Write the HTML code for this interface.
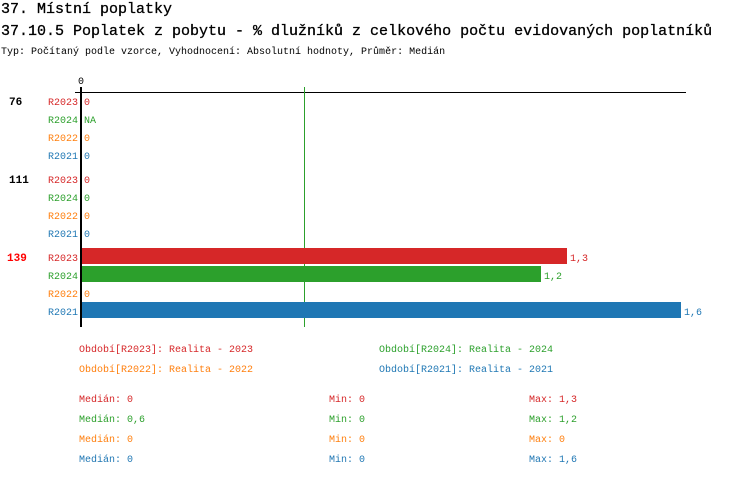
<!DOCTYPE html>
<html><head><meta charset="utf-8"><style>
body{margin:0;background:#fff;}
svg text{font-family:"Liberation Mono","DejaVu Sans Mono",monospace;}
</style></head><body>
<svg width="750" height="476" xmlns="http://www.w3.org/2000/svg">
<text x="1" y="13" font-size="15" fill="#000" stroke="#000" stroke-width="0.3">37. Místní poplatky</text>
<text x="1" y="35" font-size="15" fill="#000" stroke="#000" stroke-width="0.3">37.10.5 Poplatek z pobytu - % dlužníků z celkového počtu evidovaných poplatníků</text>
<text x="1" y="54" font-size="10" fill="#000">Typ: Počítaný podle vzorce, Vyhodnocení: Absolutní hodnoty, Průměr: Medián</text>
<text x="81" y="84" font-size="10" text-anchor="middle">0</text>
<line x1="75" y1="92.5" x2="686" y2="92.5" stroke="#000" stroke-width="1"/>
<line x1="81" y1="87" x2="81" y2="327" stroke="#000" stroke-width="2"/>
<line x1="304.5" y1="87" x2="304.5" y2="327" stroke="#2ca02c" stroke-width="1"/>
<rect x="82" y="248" width="485" height="16" fill="#d62728"/>
<rect x="82" y="266" width="459" height="16" fill="#2ca02c"/>
<rect x="82" y="302" width="599" height="16" fill="#1f77b4"/>
<g font-size="11" font-weight="bold">
<text x="9" y="105">76</text><text x="9" y="183">111</text><text x="7" y="261" fill="#f00">139</text>
</g>
<g font-size="10" text-anchor="end">
<text x="78" y="105" fill="#d62728">R2023</text><text x="78" y="123" fill="#2ca02c">R2024</text><text x="78" y="141" fill="#ff7f0e">R2022</text><text x="78" y="159" fill="#1f77b4">R2021</text>
<text x="78" y="183" fill="#d62728">R2023</text><text x="78" y="201" fill="#2ca02c">R2024</text><text x="78" y="219" fill="#ff7f0e">R2022</text><text x="78" y="237" fill="#1f77b4">R2021</text>
<text x="78" y="261" fill="#d62728">R2023</text><text x="78" y="279" fill="#2ca02c">R2024</text><text x="78" y="297" fill="#ff7f0e">R2022</text><text x="78" y="315" fill="#1f77b4">R2021</text>
</g>
<g font-size="10">
<text x="84" y="105" fill="#d62728">0</text><text x="84" y="123" fill="#2ca02c">NA</text><text x="84" y="141" fill="#ff7f0e">0</text><text x="84" y="159" fill="#1f77b4">0</text>
<text x="84" y="183" fill="#d62728">0</text><text x="84" y="201" fill="#2ca02c">0</text><text x="84" y="219" fill="#ff7f0e">0</text><text x="84" y="237" fill="#1f77b4">0</text>
<text x="570" y="261" fill="#d62728">1,3</text><text x="544" y="279" fill="#2ca02c">1,2</text><text x="84" y="297" fill="#ff7f0e">0</text><text x="684" y="315" fill="#1f77b4">1,6</text>
<text x="79" y="352" fill="#d62728">Období[R2023]: Realita - 2023</text>
<text x="379" y="352" fill="#2ca02c">Období[R2024]: Realita - 2024</text>
<text x="79" y="372" fill="#ff7f0e">Období[R2022]: Realita - 2022</text>
<text x="379" y="372" fill="#1f77b4">Období[R2021]: Realita - 2021</text>
<text x="79" y="402" fill="#d62728">Medián: 0</text><text x="329" y="402" fill="#d62728">Min: 0</text><text x="529" y="402" fill="#d62728">Max: 1,3</text>
<text x="79" y="422" fill="#2ca02c">Medián: 0,6</text><text x="329" y="422" fill="#2ca02c">Min: 0</text><text x="529" y="422" fill="#2ca02c">Max: 1,2</text>
<text x="79" y="442" fill="#ff7f0e">Medián: 0</text><text x="329" y="442" fill="#ff7f0e">Min: 0</text><text x="529" y="442" fill="#ff7f0e">Max: 0</text>
<text x="79" y="462" fill="#1f77b4">Medián: 0</text><text x="329" y="462" fill="#1f77b4">Min: 0</text><text x="529" y="462" fill="#1f77b4">Max: 1,6</text>
</g>
</svg>
</body></html>
